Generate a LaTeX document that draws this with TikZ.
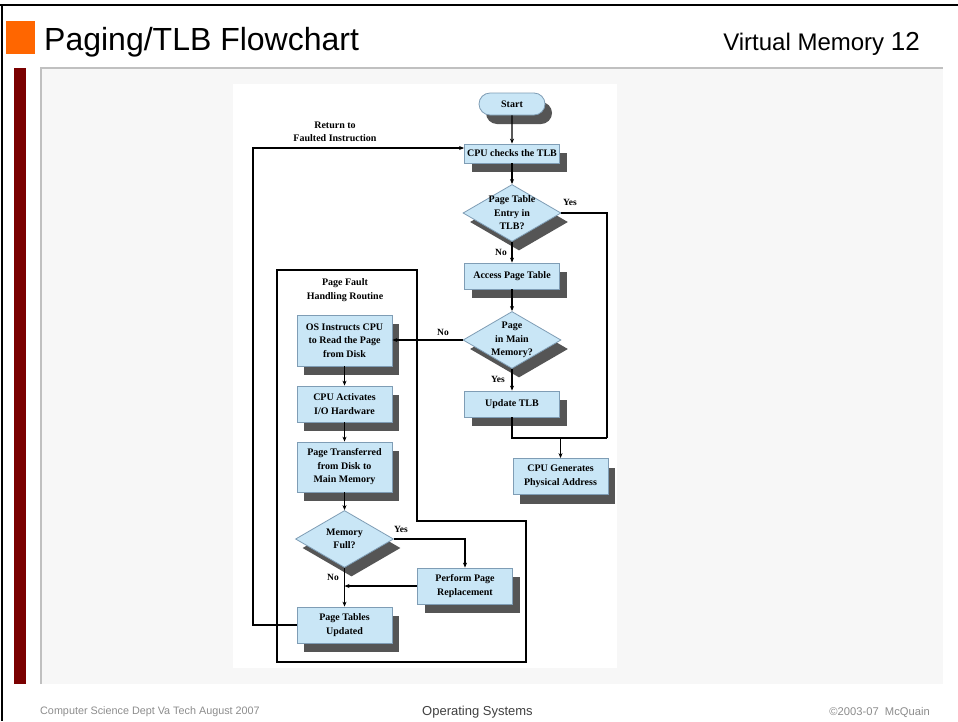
\documentclass[tikz,border=0pt]{standalone}
\usepackage{fontspec}
\usetikzlibrary{positioning,calc,arrows.meta,shapes.geometric,shapes.misc,shadows}
\newfontfamily\slidefont{Liberation Sans}
\newfontfamily\chartfont{Liberation Serif}
\definecolor{slideorange}{HTML}{FF6600}
\definecolor{slidered}{HTML}{7A0000}
\definecolor{panelgray}{HTML}{F7F7F7}
\definecolor{paneledge}{HTML}{C0C0C0}
\definecolor{boxblue}{HTML}{C9E6F6}
\definecolor{boxedge}{HTML}{7F9DB5}
\definecolor{shadowgray}{HTML}{555555}
\definecolor{footgray}{HTML}{8C8C8C}
\tikzset{
  chart/.style={font=\chartfont\bfseries\fontsize{10}{13.5}\selectfont},
  shade/.style={drop shadow={shadow xshift=7pt,shadow yshift=-9pt,fill=shadowgray,opacity=1}},
  box/.style={chart,rectangle,draw=boxedge,fill=boxblue,line width=0.8pt,minimum width=95pt,inner sep=2pt,align=center,shade},
  startbox/.style={box,rounded rectangle,minimum width=70pt,minimum height=22pt},
  % decisions: the text goes on a node of its own, over the diamond
  decide/.style={diamond,draw=boxedge,fill=boxblue,line width=0.8pt,minimum width=98pt,minimum height=57pt,inner sep=0,shade},
  decidetext/.style={chart,align=center},
  lab/.style={chart,font=\chartfont\bfseries\fontsize{9.5}{13}\selectfont},
  line/.style={line width=1.1pt},
  flow/.style={line,-{Stealth[length=5pt,width=4pt]}},
}
\begin{document}
\begin{tikzpicture}[x=1pt,y=-1pt]
  \useasboundingbox (0,0) rectangle (958,721);
  % slide frame
  \draw[line width=2.5pt] (0,5) -- (958,5);
  \draw[line width=2.5pt] (2,5) -- (2,721);
  \fill[slideorange] (6,21) rectangle (35,54);
  \node[anchor=base west,inner sep=0] (title) at (44,50) {\slidefont\fontsize{32}{32}\selectfont Paging/TLB Flowchart};
  \node[anchor=base east,inner sep=0] (chapter) at (920,50) {\slidefont\fontsize{24}{24}\selectfont Virtual Memory {\fontsize{26}{26}\selectfont 12}};
  \fill[panelgray] (41,68) rectangle (943,684);
  \draw[paneledge,line width=1.3pt] (41,684) -- (41,68) -- (943,68);
  \fill[slidered] (14,68) rectangle (26,684);
  \fill[white] (233,84) rectangle (617,668);
  % the flowchart
  \node[startbox] (start) at (512,104) {Start};
  \node[box,minimum height=19pt] (tlb) at (512,153.5) {CPU checks the TLB};
  \node[decide] (intlb) at (512,213) {};
  \node[decidetext] at (intlb) {Page Table\\Entry in\\TLB?};
  \node[box,minimum height=26pt] (access) at (512,276) {Access Page Table};
  \node[decide] (inmem) at (512,340) {};
  \node[decidetext] at (inmem) {Page\\in Main\\Memory?};
  \node[box,minimum height=26pt] (update) at (512,404) {Update TLB};
  \node[box,minimum height=36pt] (gen) at (560.5,476.5) {CPU Generates\\Physical Address};
  \node[box,minimum height=51pt] (osread) at (344.5,340.5) {OS Instructs CPU\\to Read the Page\\from Disk};
  \node[box,minimum height=36pt] (activate) at (344.5,404) {CPU Activates\\I/O Hardware};
  \node[box,minimum height=50pt] (transfer) at (344.5,467) {Page Transferred\\from Disk to\\Main Memory};
  \node[decide] (full) at (344.5,539) {};
  \node[decidetext] at (full) {Memory\\Full?};
  \node[box,minimum height=36pt] (replace) at (465,586) {Perform Page\\Replacement};
  \node[box,minimum height=36pt] (tables) at (344.5,625) {Page Tables\\Updated};
  % page fault routine outline
  \draw[line] (277,270) -- (417,270) -- (417,521) -- (526,521) -- (526,662) -- (277,662) -- cycle;
  \node[decidetext] (routine) at (345,290) {Page Fault\\Handling Routine};
  \node[decidetext] (return) at (335,132) {Return to\\Faulted Instruction};
  % connectors
  \coordinate (joinr) at (607,438);
  \coordinate (joinm) at (560.5,438);
  \coordinate (back) at (253,148);
  \draw[flow] (start) -- (tlb);
  \draw[flow] (tlb) -- (intlb);
  \draw[flow] (intlb) -- (access);
  \draw[flow] (access) -- (inmem);
  \draw[flow] (inmem) -- (update);
  \draw[line] (intlb.east) -| (joinr);
  \draw[line] (update.south) |- (joinr);
  \draw[flow] (joinm) -- (gen);
  \draw[flow] (inmem.west) -- (osread.east |- inmem.west);
  \draw[flow] (osread) -- (activate);
  \draw[flow] (activate) -- (transfer);
  \draw[flow] (transfer) -- (full);
  \draw[flow] (full) -- (tables);
  \draw[flow] (full.east) -| (replace.north);
  \draw[flow] (replace.west) -- (replace.west -| tables);
  \draw[flow] (tables.west) -| (back) -- (back -| tlb.west);
  \node[lab] (yes1) at (570,202) {Yes};
  \node[lab] (no1) at (501,252) {No};
  \node[lab] (no2) at (443,332) {No};
  \node[lab] (yes2) at (498,379) {Yes};
  \node[lab] (yes3) at (401,529) {Yes};
  \node[lab] (no3) at (333,577) {No};
  % footer
  \node[text=footgray,inner sep=0,anchor=west] (dept) at (40,712) {\slidefont\fontsize{10.8}{10.8}\selectfont Computer Science Dept Va Tech August 2007};
  \node[text=black!75,inner sep=0,anchor=west] (course) at (422,712) {\slidefont\fontsize{13}{13}\selectfont Operating Systems};
  \node[text=footgray,inner sep=0,anchor=east] (copy) at (930,712) {\slidefont\fontsize{11.2}{11.2}\selectfont \textcopyright2003-07\ \ McQuain};
\end{tikzpicture}
\end{document}
